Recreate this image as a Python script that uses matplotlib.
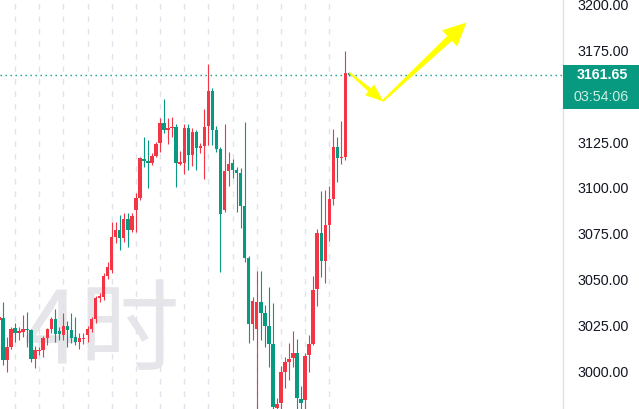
import matplotlib
matplotlib.use('Agg')
import matplotlib.pyplot as plt
from matplotlib.patches import Rectangle, Polygon
from matplotlib.transforms import IdentityTransform
import numpy as np

plt.rcParams['lines.scale_dashes'] = False

# ---------------- data (4H candles) ----------------
opens = [3027.8, 3028.9, 3006.0, 3013.1, 3023.4, 3020.7, 3021.3, 3022.9, 3022.4, 3006.5,
         3010.9, 3011.4, 3018.0, 3022.9, 3028.4, 3021.8, 3019.6, 3024.5, 3022.4, 3018.5,
         3015.8, 3017.4, 3019.6, 3022.9, 3028.4, 3039.8, 3040.4, 3051.8, 3055.1, 3073.1,
         3076.9, 3072.6, 3083.0, 3076.9, 3087.9, 3094.4, 3115.7, 3114.6, 3113.5, 3117.3,
         3124.4, 3135.4, 3131.5, 3132.6, 3133.2, 3113.0, 3113.5, 3132.6, 3117.9, 3130.4,
         3121.7, 3122.8, 3133.7, 3152.8, 3131.5, 3121.2, 3087.9, 3109.2, 3113.5, 3109.7,
         3108.1, 3090.0, 3061.7, 3025.6, 3022.9, 3037.6, 3031.6, 3024.5, 3014.7, 2979.8,
         2982.5, 2999.4, 3004.9, 3007.1, 3009.8, 2984.7, 2984.1, 3008.7, 3014.7, 3044.7,
         3075.3, 3060.0, 3079.7, 3093.9, 3122.3, 3116.2, 3116.8, 3162.7]
highs = [3030.5, 3037.6, 3018.5, 3024.0, 3026.2, 3024.0, 3030.5, 3032.2, 3022.9, 3013.6,
         3013.1, 3019.1, 3023.4, 3029.5, 3033.8, 3024.0, 3031.6, 3027.3, 3031.6, 3029.5,
         3020.7, 3020.7, 3024.5, 3029.5, 3040.9, 3042.5, 3053.5, 3059.5, 3081.3, 3081.3,
         3085.1, 3086.2, 3086.2, 3086.2, 3097.1, 3116.8, 3127.7, 3126.1, 3119.0, 3125.0,
         3138.1, 3148.5, 3138.1, 3138.6, 3134.8, 3120.1, 3134.8, 3134.8, 3132.6, 3131.5,
         3124.4, 3143.0, 3167.6, 3154.5, 3133.7, 3122.3, 3134.8, 3119.5, 3115.7, 3111.3,
         3110.8, 3135.9, 3062.7, 3040.4, 3054.6, 3054.6, 3036.0, 3045.8, 3037.1, 2985.2,
         3002.7, 3007.6, 3015.3, 3021.8, 3017.4, 2991.8, 3009.8, 3019.6, 3051.8, 3077.5,
         3098.2, 3098.8, 3101.0, 3132.1, 3127.7, 3136.4, 3174.7, 3163.2]
lows = [3026.7, 3003.2, 2999.4, 3012.0, 3015.8, 3016.9, 3018.5, 3013.1, 3004.9, 3001.6,
        3008.7, 3007.6, 3014.2, 3020.7, 3015.8, 3016.9, 3016.9, 3013.1, 3015.3, 3014.2,
        3012.0, 3014.7, 3015.8, 3021.3, 3026.2, 3037.6, 3038.7, 3050.2, 3053.5, 3069.8,
        3066.0, 3070.4, 3067.7, 3075.9, 3075.9, 3093.3, 3111.3, 3099.9, 3112.4, 3116.8,
        3119.5, 3129.9, 3123.9, 3127.7, 3100.4, 3112.4, 3107.5, 3109.7, 3111.9, 3109.7,
        3119.0, 3104.8, 3123.3, 3123.3, 3119.5, 3054.0, 3086.8, 3101.0, 3105.3, 3086.8,
        3078.0, 3059.5, 3015.3, 3016.9, 2978.7, 3016.9, 3013.1, 3002.2, 2976.0, 2976.0,
        2977.6, 2990.7, 2995.1, 3002.2, 2979.2, 2977.6, 2977.6, 2999.4, 3014.2, 3035.5,
        3051.3, 3048.0, 3070.9, 3090.6, 3103.1, 3113.0, 3115.2, 3161.0]
closes = [3029.5, 3006.0, 3013.1, 3022.9, 3020.7, 3021.8, 3022.9, 3022.4, 3006.5, 3011.4,
          3011.4, 3018.0, 3022.9, 3028.4, 3020.2, 3020.2, 3024.5, 3022.4, 3018.0, 3015.8,
          3018.0, 3018.0, 3022.9, 3028.4, 3039.8, 3040.9, 3051.8, 3056.7, 3073.1, 3076.9,
          3072.6, 3083.0, 3076.9, 3084.6, 3094.4, 3116.2, 3114.6, 3113.5, 3117.3, 3123.9,
          3135.4, 3131.5, 3132.6, 3133.2, 3113.5, 3114.1, 3132.6, 3117.9, 3130.4, 3121.7,
          3122.8, 3133.2, 3152.8, 3131.5, 3121.2, 3085.7, 3109.2, 3113.0, 3109.7, 3108.1,
          3090.0, 3061.7, 3025.6, 3038.2, 3037.6, 3031.6, 3024.5, 3014.7, 2980.3, 2982.0,
          2999.4, 3004.9, 3006.5, 3009.8, 2985.2, 2982.5, 3008.2, 3014.7, 3044.2, 3075.3,
          3060.0, 3079.7, 3093.9, 3122.3, 3116.2, 3116.8, 3162.7, 3161.65]

# 3150.00 is hidden under the price label in the reference
y_ticks = [3000, 3025, 3050, 3075, 3100, 3125, 3175, 3200]
last_price = 3161.65
last_label = "3161.65"
countdown = "03:54:06"
watermark = "4时"

UP = '#f23645'
DOWN = '#089981'
GRID = '#e0e3eb'

W, H = 639, 409
fig = plt.figure(figsize=(W / 100, H / 100), dpi=100)
fig.patch.set_facecolor('white')
ax = fig.add_axes([0, 0, 563 / W, 1])
ax.set_facecolor('white')

n = len(opens)
ax.set_xlim(0.28, 140.0)
ax.set_ylim(2979.3, 3202.5)

# vertical dashed grid
for gx in range(4, n - 4, 6):
    ax.axvline(gx, color=GRID, lw=1.0, dashes=(4.0, 5.0), zorder=1)

# watermark
ax.text(24 / 563, (H - 363) / H, watermark, transform=ax.transAxes, fontsize=72,
        family=['Noto Sans CJK SC', 'DejaVu Sans'], color='#e6e6ea',
        va='baseline', ha='left', zorder=0.5)

# candles
bw = 0.85
for i in range(n):
    o, h, l, c = opens[i], highs[i], lows[i], closes[i]
    col = UP if c >= o else DOWN
    ax.vlines(i, l, h, color=col, lw=0.8, zorder=3)
    bot = min(o, c)
    ht = max(abs(c - o), 0.6)
    ax.add_patch(Rectangle((i - bw / 2, bot), bw, ht, facecolor=col,
                           edgecolor='none', zorder=4))

# last price dotted line
ax.axhline(last_price, color=DOWN, lw=1.0, dashes=(1.0, 2.6), zorder=2)

# axis styling
for s in ['top', 'left', 'bottom']:
    ax.spines[s].set_visible(False)
ax.spines['right'].set_color(GRID)
ax.spines['right'].set_linewidth(1.0)
ax.set_xticks([])
ax.yaxis.tick_right()
ax.set_yticks(y_ticks)
ax.set_yticklabels([f"{v:.2f}" for v in y_ticks])
ax.tick_params(axis='y', length=0, pad=10.1, labelsize=10.3,
               labelcolor='#131722')
for t in ax.get_yticklabels():
    t.set_family('Liberation Sans')

fig.canvas.draw()

# price label box on the scale
_, ypx = ax.transData.transform((0, last_price))
fig.add_artist(Rectangle((563, ypx - 34), 76, 44, transform=IdentityTransform(),
                         facecolor=DOWN, edgecolor='none', zorder=5))
fig.text(577 / W, ypx / H, last_label, color='white', fontsize=10.3,
         family='Liberation Sans', fontweight='bold', va='center', ha='left', zorder=6)
fig.text(573 / W, (ypx - 22) / H, countdown, color='#cdeee4', fontsize=10.3,
         family='Liberation Sans', va='center', ha='left', zorder=6)


# yellow tapered arrows
def tapered(p0, p1, w0, w1, hl, hh):
    p0 = np.array(p0, float)
    p1 = np.array(p1, float)
    d = p1 - p0
    u = d / np.hypot(*d)
    nv = np.array([-u[1], u[0]])
    b = p1 - u * hl
    return [p0 + nv * w0 / 2, b + nv * w1 / 2, b + nv * hh, p1,
            b - nv * hh, b - nv * w1 / 2, p0 - nv * w0 / 2]


arrow_pts = [(n - 1, 3162.7), (95.3, 3147.4), (115.9, 3189.9)]
disp = ax.transData.transform(arrow_pts)
for (a, b), (w0, w1, hl, hh) in zip([(disp[0], disp[1]), (disp[1], disp[2])],
                                     [(1.0, 3.5, 17, 6.5), (1.5, 6.0, 22, 10.5)]):
    fig.add_artist(Polygon(tapered(a, b, w0, w1, hl, hh), closed=True,
                           transform=IdentityTransform(), facecolor='#ffff00',
                           edgecolor='#ffff00', lw=0.5, zorder=7))

fig.savefig('out.png', dpi=100, facecolor='white')
